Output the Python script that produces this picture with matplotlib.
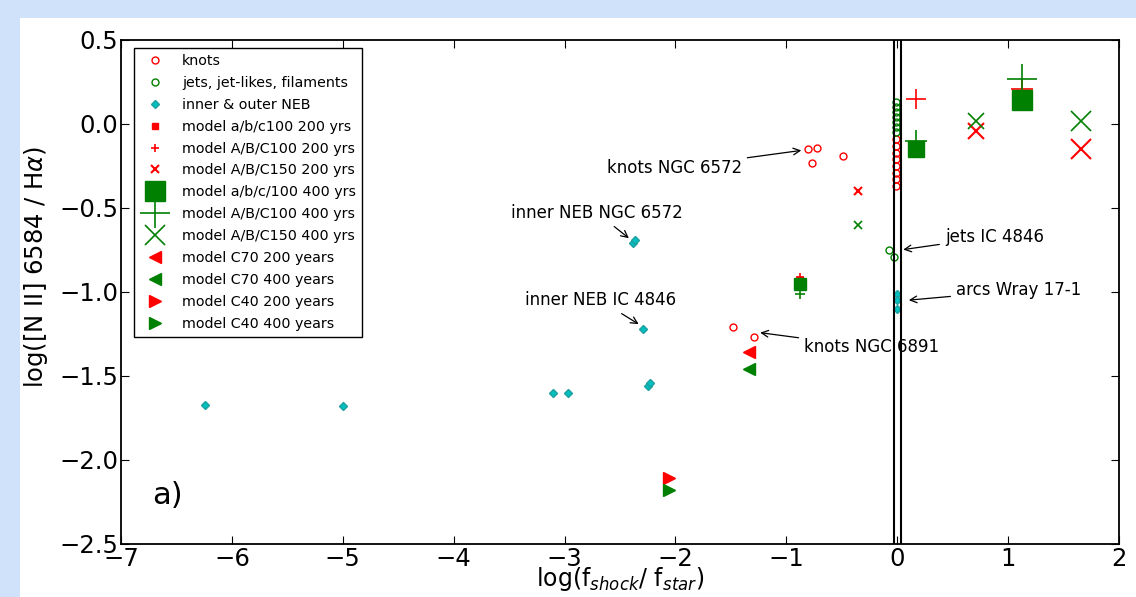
import matplotlib
matplotlib.use('Agg')
import matplotlib.pyplot as plt
from matplotlib.patches import Rectangle

# knots (red open circles)
knots_x = [-0.80, -0.72, -0.77, -0.49, -1.48, -1.29,
           -0.01, -0.01, -0.01, -0.01, -0.01, -0.01, -0.01, -0.01]
knots_y = [-0.15, -0.14, -0.23, -0.19, -1.21, -1.27,
           -0.09, -0.13, -0.17, -0.21, -0.25, -0.29, -0.33, -0.37]
# jets, jet-likes, filaments (green open circles)
jets_x = [-0.07, -0.03, -0.01, -0.01, -0.01, -0.01, -0.01, -0.01, -0.01]
jets_y = [-0.75, -0.79, 0.13, 0.10, 0.07, 0.04, 0.01, -0.02, -0.05]
# inner & outer NEB (cyan diamonds)
neb_x = [-6.24, -5.00, -3.10, -2.97, -2.25, -2.23, -2.29, -2.38, -2.36, 0.0, 0.0, 0.0]
neb_y = [-1.67, -1.68, -1.60, -1.60, -1.56, -1.54, -1.22, -0.71, -0.69, -1.01, -1.05, -1.10]

# models
sq200_x, sq200_y = [-0.88], [-0.93]
pl200_x, pl200_y = [-0.88, 0.17, 1.13], [-0.91, 0.15, 0.21]
x200_x, x200_y = [-0.35, 0.71, 1.66], [-0.40, -0.04, -0.15]
sq400_x, sq400_y = [-0.88, 0.17, 1.13], [-0.95, -0.15, 0.14]
pl400_x, pl400_y = [-0.88, 0.17, 1.13], [-1.01, -0.10, 0.27]
x400_x, x400_y = [-0.35, 0.71, 1.66], [-0.60, 0.02, 0.02]
c70_200_x, c70_200_y = [-1.34], [-1.36]
c70_400_x, c70_400_y = [-1.34], [-1.46]
c40_200_x, c40_200_y = [-2.06], [-2.11]
c40_400_x, c40_400_y = [-2.06], [-2.18]

# annotations: label, target point, text position
notes = [
    ('knots NGC 6572', (-0.84, -0.155), (-2.62, -0.26)),
    ('inner NEB NGC 6572', (-2.40, -0.69), (-3.48, -0.53)),
    ('jets IC 4846', (0.03, -0.75), (0.43, -0.67)),
    ('inner NEB IC 4846', (-2.31, -1.20), (-3.36, -1.05)),
    ('arcs Wray 17-1', (0.08, -1.05), (0.53, -0.99)),
    ('knots NGC 6891', (-1.26, -1.24), (-0.84, -1.33)),
]

fig = plt.figure(figsize=(11.36, 5.97), dpi=100)
fig.patch.set_facecolor('#cfe2f9')
fig.patches.append(Rectangle((20/1136., 0), 1, 1 - 18/597., transform=fig.transFigure,
                             facecolor='white', edgecolor='none', zorder=-10))
ax = fig.add_axes([0.1065, 0.0888, 0.8785, 0.8442])


def pts(xs, ys, sizes, lab, leg_i, **kw):
    for i, (x, y, s) in enumerate(zip(xs, ys, sizes)):
        ax.plot(x, y, ls='none', ms=s, label=lab if i == leg_i else None, **kw)


ax.plot(knots_x, knots_y, 'o', mfc='none', mec='r', ms=5, mew=1, label='knots')
ax.plot(jets_x, jets_y, 'o', mfc='none', mec='g', ms=5, mew=1,
        label='jets, jet-likes, filaments')
ax.plot(neb_x, neb_y, 'D', color='c', ms=4.5, mec='#20a0a0', label='inner & outer NEB')
ax.plot(sq200_x, sq200_y, 's', color='r', ms=4, label='model a/b/c100 200 yrs')
pts(pl200_x, pl200_y, [6, 15, 16], 'model A/B/C100 200 yrs', 0, marker='+', color='r', mew=1.2)
pts(x200_x, x200_y, [6, 11, 14], 'model A/B/C150 200 yrs', 0, marker='x', color='r', mew=1.5)
pts(sq400_x, sq400_y, [9, 11.5, 15], 'model a/b/c/100 400 yrs', 2, marker='s', color='g')
pts(pl400_x, pl400_y, [7, 16, 22], 'model A/B/C100 400 yrs', 2, marker='+', color='g', mew=1.2)
pts(x400_x, x400_y, [6, 11, 15], 'model A/B/C150 400 yrs', 2, marker='x', color='g', mew=1.2)
ax.plot(c70_200_x, c70_200_y, '<', color='r', ms=8, label='model C70 200 years')
ax.plot(c70_400_x, c70_400_y, '<', color='g', ms=8, label='model C70 400 years')
ax.plot(c40_200_x, c40_200_y, '>', color='r', ms=8, label='model C40 200 years')
ax.plot(c40_400_x, c40_400_y, '>', color='g', ms=8, label='model C40 400 years')

ax.axvline(-0.03, color='k', lw=1.5)
ax.axvline(0.03, color='k', lw=1.5)

for txt, xy, xyt in notes:
    ax.annotate(txt, xy=xy, xytext=xyt, fontsize=12, ha='left', va='center',
                arrowprops=dict(arrowstyle='->', color='k', lw=0.9))

ax.text(-6.72, -2.21, 'a)', fontsize=22, va='center')

ax.set_xlim(-7, 2)
ax.set_ylim(-2.5, 0.5)
ax.set_xticks(range(-7, 3))
ax.set_yticks([-2.5, -2.0, -1.5, -1.0, -0.5, 0.0, 0.5])
ax.tick_params(direction='in', top=True, right=True, labelsize=17.5, length=6, pad=2)
for s in ax.spines.values():
    s.set_linewidth(1.3)
ax.set_xlabel(r'log(f$_{shock}$/ f$_{star}$)', fontsize=17, labelpad=-4)
ax.set_ylabel(r'log([N II] 6584 / H$\alpha$)', fontsize=17.5)
ax.yaxis.set_label_coords(-0.071, 0.55)

leg = ax.legend(loc='upper left', bbox_to_anchor=(0.006, 0.999), numpoints=1, fontsize=10.3,
                labelspacing=0.55, handlelength=2.0, handletextpad=0.9, borderpad=0.45,
                fancybox=False, framealpha=1, edgecolor='k')
leg.get_frame().set_linewidth(1.0)

plt.savefig('out.png', dpi=100, facecolor=fig.get_facecolor())
